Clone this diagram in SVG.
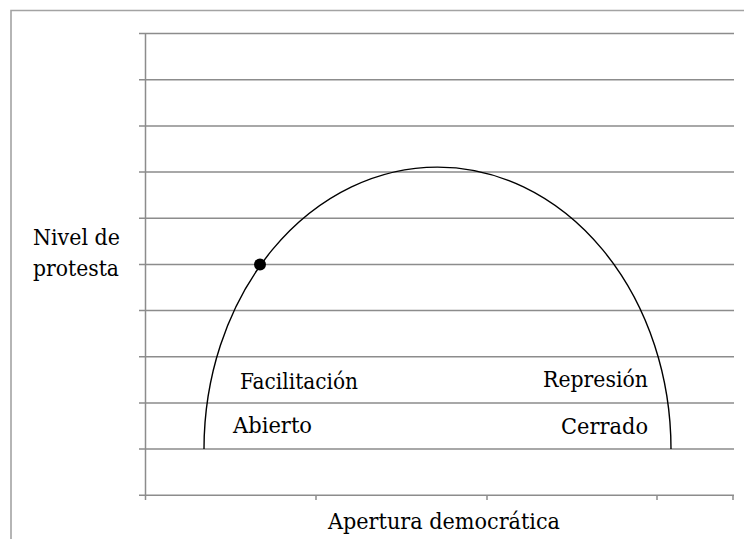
<svg xmlns="http://www.w3.org/2000/svg" width="744" height="539" viewBox="0 0 744 539">
<style>
.frame{stroke:#a3a3a3;stroke-width:1.6;fill:none}
.grid{stroke:#8c8c8c;stroke-width:1.5;fill:none}
.curve{stroke:#000;stroke-width:1.4;fill:none}
</style>
<rect width="744" height="539" fill="#fff"/>
<g id="frame">
<path class="frame" d="M11,539 V10.5 H744"/>
</g>
<g id="grid">
<path class="grid" d="M139,33.5H734M139,79.7H734M139,125.9H734M139,172H734M139,218.2H734M139,264.4H734M139,310.6H734M139,356.8H734M139,402.9H734M139,449.1H734M139,495.3H734"/>
<path class="grid" d="M145.5,33.5V500M316,495.3V500M487,495.3V500M657,495.3V500M733,495.3V500"/>
</g>
<g id="connectors">
<path id="curve" class="curve" d="M204,449 A233.5,282 0 0 1 671,449"/>
</g>
<g id="point">
<circle cx="260" cy="264.4" r="6" fill="#000"/>
</g>
<g font-family="DejaVu Serif, Liberation Serif, serif" font-size="22.5" fill="#000">
<g id="y-label">
<text x="33" y="245" textLength="87" lengthAdjust="spacingAndGlyphs">Nivel de</text>
<text x="33" y="276" textLength="86" lengthAdjust="spacingAndGlyphs">protesta</text>
</g>
<g id="x-label">
<text x="328" y="529" textLength="232" lengthAdjust="spacingAndGlyphs">Apertura democrática</text>
</g>
<g id="facilitacion">
<text x="240" y="389" textLength="118" lengthAdjust="spacingAndGlyphs">Facilitación</text>
</g>
<g id="abierto">
<text x="233" y="433" textLength="79" lengthAdjust="spacingAndGlyphs">Abierto</text>
</g>
<g id="represion">
<text x="543" y="387" textLength="105" lengthAdjust="spacingAndGlyphs">Represión</text>
</g>
<g id="cerrado">
<text x="561" y="434" textLength="87" lengthAdjust="spacingAndGlyphs">Cerrado</text>
</g>
</g>
</svg>
